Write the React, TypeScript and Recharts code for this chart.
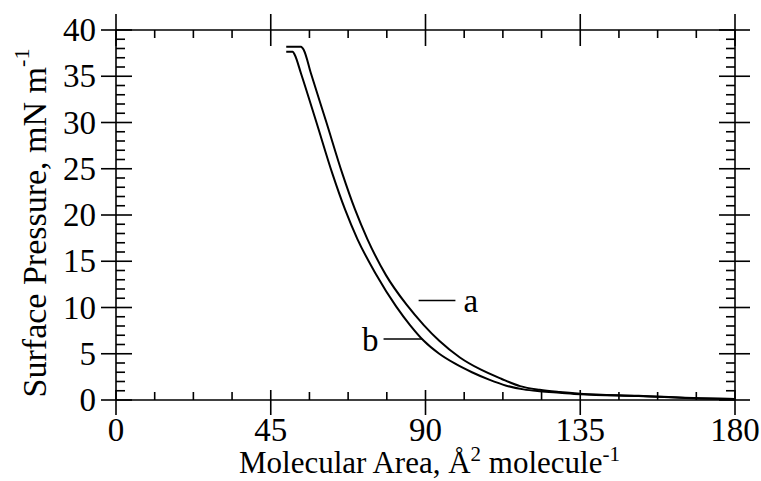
import React from "react";
import { LineChart, Line, XAxis, YAxis, ReferenceLine, Label } from "recharts";

const FONT = '"Liberation Serif", "Times New Roman", serif';

// isotherm a (outer curve)
const areaA = [49.5, 53.8, 54.6, 56.7, 61.2, 65.8, 69.5, 73.1, 78.5, 84.5, 89.5, 94.0, 100.0, 106.0, 112.0, 117.5, 123.2, 129.0, 135.0, 152.0, 170.0, 180];
const pressureA = [38.2, 38.2, 37.85, 35.3, 30.0, 24.5, 20.6, 17.4, 13.5, 10.3, 8.1, 6.4, 4.6, 3.3, 2.3, 1.5, 1.1, 0.86, 0.68, 0.46, 0.2, 0.12];

// isotherm b (inner curve)
const areaB = [49.5, 51.4, 52.0, 53.8, 58.3, 62.9, 66.6, 70.2, 75.6, 81.5, 85.5, 89.5, 94.0, 98.5, 103.5, 108.5, 113.5, 118.5, 123.2, 129.0, 135.0, 152.0, 170.0, 180];
const pressureB = [37.65, 37.65, 37.3, 35.3, 30.0, 24.5, 20.6, 17.4, 13.6, 10.1, 8.1, 6.4, 5.0, 3.95, 3.0, 2.2, 1.55, 1.15, 0.95, 0.79, 0.63, 0.43, 0.16, 0.1];

const xTicks = [0, 11.25, 22.5, 33.75, 45, 56.25, 67.5, 78.75, 90, 101.25, 112.5, 123.75, 135, 146.25, 157.5, 168.75, 180];
const xMajor = [0, 45, 90, 135, 180];
const yTicks = [0, 1, 2, 3, 4, 5, 6, 7, 8, 9, 10, 11, 12, 13, 14, 15, 16, 17, 18, 19, 20, 21, 22, 23, 24, 25, 26, 27, 28, 29, 30, 31, 32, 33, 34, 35, 36, 37, 38, 39, 40];
const yMajor = [0, 5, 10, 15, 20, 25, 30, 35, 40];

const dataA = areaA.map((a, i) => ({ area: a, p: pressureA[i] }));
const dataB = areaB.map((a, i) => ({ area: a, p: pressureB[i] }));

const SW = 1.6;

function BottomTick(props: any) {
  const { x, y, payload } = props;
  const major = xMajor.includes(payload.value);
  return (
    <g>
      <line x1={x} x2={x} y1={major ? y - 10 : y - 8} y2={major ? y + 15 : y} stroke="#000" strokeWidth={SW} />
      {major && (
        <text x={x} y={y + 41} textAnchor="middle" fontSize={33} fontFamily={FONT} fill="#000">
          {payload.value}
        </text>
      )}
    </g>
  );
}

function TopTick(props: any) {
  const { x, y, payload } = props;
  const major = xMajor.includes(payload.value);
  return <line x1={x} x2={x} y1={major ? y - 16 : y} y2={major ? y + 16 : y + 8} stroke="#000" strokeWidth={SW} />;
}

function LeftTick(props: any) {
  const { x, y, payload } = props;
  const major = yMajor.includes(payload.value);
  return (
    <g>
      <line x1={major ? x - 15 : x} x2={major ? x + 16 : x + 9} y1={y} y2={y} stroke="#000" strokeWidth={SW} />
      {major && (
        <text x={x - 20} y={y + 11} textAnchor="end" fontSize={33} fontFamily={FONT} fill="#000">
          {payload.value}
        </text>
      )}
    </g>
  );
}

function RightTick(props: any) {
  const { x, y, payload } = props;
  const major = yMajor.includes(payload.value);
  return <line x1={major ? x - 16 : x - 9} x2={major ? x + 15 : x} y1={y} y2={y} stroke="#000" strokeWidth={SW} />;
}

function XTitle(props: any) {
  const { x, y, width, height } = props.viewBox;
  return (
    <text x={x + width / 2 + 4} y={y + height - 8} textAnchor="middle" fontSize={31} fontFamily={FONT} fill="#000">
      Molecular Area, Å
      <tspan dy={-12} fontSize={21}>2</tspan>
      <tspan dy={12}> molecule</tspan>
      <tspan dy={-12} fontSize={21}>-1</tspan>
    </text>
  );
}

function YTitle(props: any) {
  const { x, y, height } = props.viewBox;
  const cx = x + 34;
  const cy = y + height / 2 + 8;
  return (
    <text x={cx} y={cy} transform={`rotate(-90 ${cx} ${cy})`} textAnchor="middle" dominantBaseline="central" fontSize={34} fontFamily={FONT} fill="#000">
      Surface Pressure, mN m
      <tspan dy={-13} fontSize={22}>-1</tspan>
    </text>
  );
}

export default function App() {
  return (
    <div style={{ position: "absolute", left: 0, top: 0, width: 761, height: 481, background: "#fff" }}>
      <LineChart width={761} height={481} margin={{ top: 29, right: 25, bottom: 0, left: 0 }}>
        <XAxis
          xAxisId={0}
          dataKey="area"
          type="number"
          domain={[0, 180]}
          allowDataOverflow
          ticks={xTicks}
          interval={0}
          height={81}
          tickSize={0}
          tickMargin={0}
          tickLine={false}
          tick={<BottomTick />}
          axisLine={{ stroke: "#000", strokeWidth: SW }}
        >
          <Label content={<XTitle />} />
        </XAxis>
        <XAxis
          xAxisId="top"
          orientation="top"
          dataKey="area"
          type="number"
          domain={[0, 180]}
          allowDataOverflow
          ticks={xTicks}
          interval={0}
          height={1}
          tickSize={0}
          tickMargin={0}
          tickLine={false}
          tick={<TopTick />}
          axisLine={{ stroke: "#000", strokeWidth: SW }}
        />
        <YAxis
          yAxisId={0}
          type="number"
          domain={[0, 40]}
          allowDataOverflow
          ticks={yTicks}
          interval={0}
          width={116}
          tickSize={0}
          tickMargin={0}
          tickLine={false}
          tick={<LeftTick />}
          axisLine={{ stroke: "#000", strokeWidth: SW }}
        >
          <Label content={<YTitle />} />
        </YAxis>
        <YAxis
          yAxisId="right"
          orientation="right"
          type="number"
          domain={[0, 40]}
          allowDataOverflow
          ticks={yTicks}
          interval={0}
          width={1}
          tickSize={0}
          tickMargin={0}
          tickLine={false}
          tick={<RightTick />}
          axisLine={{ stroke: "#000", strokeWidth: SW }}
        />
        <Line data={dataA} dataKey="p" type="monotone" stroke="#000" strokeWidth={2} dot={false} isAnimationActive={false} />
        <Line data={dataB} dataKey="p" type="monotone" stroke="#000" strokeWidth={2} dot={false} isAnimationActive={false} />
        {/* invisible copy so the mirrored top/right axes get drawn */}
        <Line xAxisId="top" yAxisId="right" data={dataA} dataKey="p" stroke="transparent" dot={false} activeDot={false} legendType="none" isAnimationActive={false} />
        <ReferenceLine
          segment={[{ x: 88.0, y: 10.75 }, { x: 98.7, y: 10.75 }]}
          stroke="#000"
          strokeWidth={1.5}
          label={{ value: "a", position: "right", offset: 8, fontSize: 33, fill: "#000", fontFamily: FONT }}
        />
        <ReferenceLine
          segment={[{ x: 77.8, y: 6.6 }, { x: 89.0, y: 6.6 }]}
          stroke="#000"
          strokeWidth={1.5}
          label={{ value: "b", position: "left", offset: 5, fontSize: 33, fill: "#000", fontFamily: FONT }}
        />
      </LineChart>
    </div>
  );
}
